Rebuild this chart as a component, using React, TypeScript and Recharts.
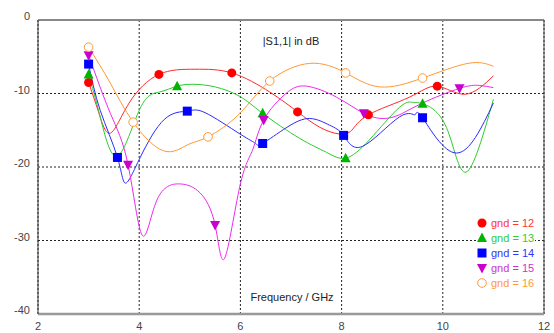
import React from "react";
import {
  ComposedChart,
  Line,
  Scatter,
  XAxis,
  YAxis,
  CartesianGrid,
  ReferenceLine,
} from "recharts";

// frequency (GHz), |S1,1| (dB)
const gnd12: [number, number][] = [
  [3.0, -8.5], [3.2, -12.6], [3.43, -15.4], [3.8, -11.3], [4.39, -7.4], [5.1, -6.7],
  [5.83, -7.2], [6.58, -9.8], [7.13, -12.5], [7.57, -14.6], [7.95, -15.5], [8.2, -15.0],
  [8.53, -12.9], [9.34, -10.5], [9.89, -9.0], [10.44, -10.1], [11.0, -7.6],
];
const gnd13: [number, number][] = [
  [3.0, -7.4], [3.23, -13.2], [3.57, -18.5], [4.02, -12.0], [4.4, -9.8], [4.75, -9.0],
  [5.07, -8.75], [5.5, -9.1], [5.99, -10.4], [6.44, -12.7], [7.17, -16.1], [7.7, -18.0],
  [8.08, -18.8], [8.55, -16.3], [9.14, -11.9], [9.4, -11.2], [9.6, -11.4], [10.07, -14.6],
  [10.46, -20.7], [11.0, -10.8],
];
const gnd14: [number, number][] = [
  [3.0, -6.0], [3.23, -12.3], [3.57, -18.7], [3.73, -22.2], [4.02, -18.7], [4.5, -13.5],
  [4.95, -12.4], [5.3, -12.6], [5.99, -15.5], [6.3, -16.8], [6.44, -16.8], [6.92, -14.6],
  [7.37, -13.4], [7.76, -14.3], [8.04, -15.7], [8.41, -17.2], [9.14, -13.2], [9.45, -12.9],
  [9.6, -13.3], [10.27, -18.1], [11.0, -11.3],
];
const gnd15: [number, number][] = [
  [3.0, -4.8], [3.43, -12.7], [3.78, -19.7], [4.06, -29.3], [4.35, -24.5], [4.8, -22.3],
  [5.2, -23.5], [5.5, -27.9], [5.69, -32.4], [5.99, -22.6], [6.24, -17.7], [6.46, -13.6],
  [6.9, -10.0], [7.31, -9.0], [7.9, -10.5], [8.44, -12.7], [8.82, -13.4], [9.14, -12.9],
  [9.6, -11.3], [10.33, -9.3], [10.72, -8.9], [11.0, -9.2],
];
const gnd16: [number, number][] = [
  [3.0, -3.7], [3.43, -8.6], [3.88, -13.9], [4.48, -17.8], [4.95, -17.0], [5.36, -15.9],
  [5.99, -12.7], [6.58, -8.3], [7.37, -5.9], [8.08, -7.2], [8.75, -9.1], [9.6, -7.9],
  [10.5, -5.9], [11.0, -6.3],
];

// marker positions on each curve
const gnd12Marks: [number, number][] = [[3.0, -8.5], [4.39, -7.4], [5.83, -7.2], [7.13, -12.5], [8.53, -12.9], [9.89, -9.0]];
const gnd13Marks: [number, number][] = [[3.0, -7.4], [4.75, -9.0], [6.44, -12.7], [8.08, -18.8], [9.6, -11.4]];
const gnd14Marks: [number, number][] = [[3.0, -6.0], [3.57, -18.7], [4.95, -12.4], [6.44, -16.8], [8.04, -15.7], [9.6, -13.3]];
const gnd15Marks: [number, number][] = [[3.0, -4.8], [3.78, -19.7], [5.5, -27.9], [6.46, -13.6], [8.44, -12.7], [10.33, -9.3]];
const gnd16Marks: [number, number][] = [[3.0, -3.7], [3.88, -13.9], [5.36, -15.9], [6.58, -8.3], [8.08, -7.2], [9.6, -7.9]];

const xTicks = [2, 4, 6, 8, 10, 12];
const yTicks = [-40, -30, -20, -10, 0];
const names = ["gnd = 12", "gnd = 13", "gnd = 14", "gnd = 15", "gnd = 16"];

const toPts = (a: [number, number][]) => a.map(([x, y]) => ({ x, y }));

type Kind = "dot" | "up" | "square" | "down" | "ring";

const series = [
  { curve: gnd12, marks: gnd12Marks, line: "#ff2a2a", mark: "#ff0000", text: "#ff3333", kind: "dot" as Kind },
  { curve: gnd13, marks: gnd13Marks, line: "#2ccc2c", mark: "#00b400", text: "#33cc33", kind: "up" as Kind },
  { curve: gnd14, marks: gnd14Marks, line: "#2a2aff", mark: "#0000ff", text: "#3333ff", kind: "square" as Kind },
  { curve: gnd15, marks: gnd15Marks, line: "#ee2aee", mark: "#cc00cc", text: "#cc33cc", kind: "down" as Kind },
  { curve: gnd16, marks: gnd16Marks, line: "#ff9933", mark: "#ff9933", text: "#ff9933", kind: "ring" as Kind },
];

const Marker = ({ kind, cx, cy, color }: { kind: Kind; cx: number; cy: number; color: string }) => {
  if (kind === "dot") return <circle cx={cx} cy={cy} r={4.5} fill={color} />;
  if (kind === "ring") return <circle cx={cx} cy={cy} r={4.3} fill="#fff" stroke={color} strokeWidth={1} />;
  if (kind === "square") return <rect x={cx - 4.5} y={cy - 4.5} width={9} height={9} fill={color} />;
  if (kind === "up")
    return <polygon points={`${cx},${cy - 5.5} ${cx + 5},${cy + 4} ${cx - 5},${cy + 4}`} fill={color} />;
  return <polygon points={`${cx - 5},${cy - 4} ${cx + 5},${cy - 4} ${cx},${cy + 5.5}`} fill={color} />;
};

const font = "'Liberation Sans', Arial, sans-serif";

const XTick = (props: any) => (
  <text x={props.x} y={props.y + 12} textAnchor="middle" dominantBaseline="central" fontSize={11} fontFamily={font} fill="#444">
    {props.payload.value}
  </text>
);

const YTick = (props: any) => (
  <text x={props.x} y={props.y - 4} textAnchor="end" dominantBaseline="central" fontSize={11} fontFamily={font} fill="#444">
    {props.payload.value}
  </text>
);

export default function App() {
  return (
    <div style={{ position: "absolute", left: 0, top: 0, width: 554, height: 333, background: "#fff" }}>
      <ComposedChart width={554} height={333} margin={{ top: 20, right: 10, bottom: 0, left: 0 }}>
        <CartesianGrid stroke="#222" strokeDasharray="2 2" />
        <XAxis
          dataKey="x"
          type="number"
          domain={[2, 12]}
          ticks={xTicks}
          height={19}
          tickSize={0}
          tickMargin={0}
          tick={<XTick />}
          axisLine={{ stroke: "#999", strokeWidth: 2.5 }}
          allowDataOverflow
        />
        <YAxis
          type="number"
          domain={[-40, 0]}
          ticks={yTicks}
          width={38}
          tickSize={0}
          tickMargin={8}
          tick={<YTick />}
          axisLine={{ stroke: "#333", strokeWidth: 1 }}
          allowDataOverflow
        />
        <ReferenceLine y={0} stroke="#888" strokeWidth={2} />
        <ReferenceLine x={12} stroke="#444" strokeWidth={1} />
        {series.map((s, i) => (
          <Line
            key={"l" + i}
            data={toPts(s.curve)}
            dataKey="y"
            type="natural"
            stroke={s.line}
            strokeWidth={1}
            dot={false}
            activeDot={false}
            isAnimationActive={false}
          />
        ))}
        {series.map((s, i) => (
          <Scatter
            key={"s" + i}
            data={toPts(s.marks)}
            dataKey="y"
            isAnimationActive={false}
            shape={(p: any) => <Marker kind={s.kind} cx={p.cx} cy={p.cy} color={s.mark} />}
          />
        ))}
      </ComposedChart>
      <div style={{ position: "absolute", left: 291, top: 41, transform: "translate(-50%,-50%)", font: `11px ${font}`, color: "#222", whiteSpace: "nowrap" }}>
        |S1,1| in dB
      </div>
      <div style={{ position: "absolute", left: 292, top: 297, transform: "translate(-50%,-50%)", font: `11px ${font}`, color: "#222", whiteSpace: "nowrap" }}>
        Frequency / GHz
      </div>
      <div style={{ position: "absolute", left: 477, top: 215, background: "#fff", paddingRight: 1 }}>
        {series.map((s, i) => (
          <div key={i} style={{ display: "flex", alignItems: "center", height: 15.2 }}>
            <svg width={11} height={14} style={{ overflow: "visible" }}>
              <Marker kind={s.kind} cx={5} cy={7} color={s.mark} />
            </svg>
            <span style={{ marginLeft: 3, font: `11px ${font}`, color: s.text, whiteSpace: "nowrap" }}>{names[i]}</span>
          </div>
        ))}
      </div>
    </div>
  );
}
